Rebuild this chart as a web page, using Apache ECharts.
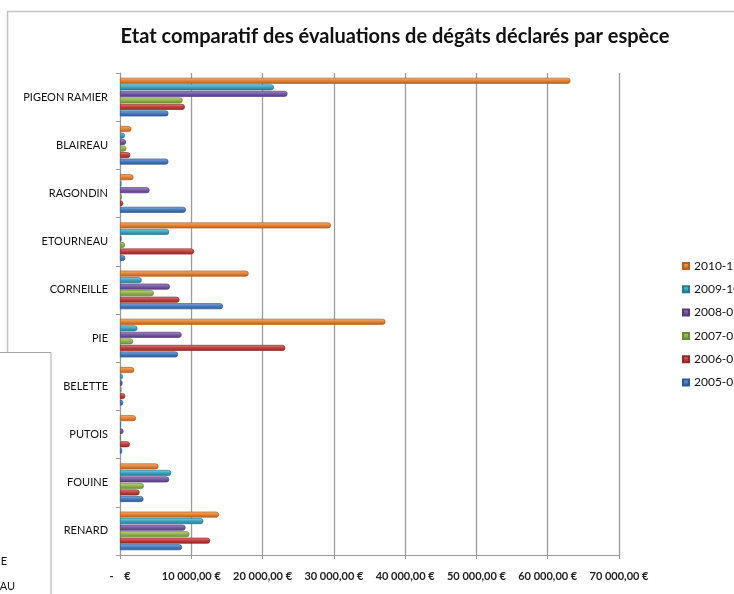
<!DOCTYPE html>
<html>
<head>
<meta charset="utf-8">
<script src="https://cdn.jsdelivr.net/npm/echarts@6/dist/echarts.min.js"></script>
<style>
  html, body { margin: 0; padding: 0; background: #fff; }
  #chart { width: 734px; height: 594px; }
</style>
</head>
<body>
<div id="chart"></div>
<script>
// Espèces (de bas en haut sur l'axe vertical)
const especes = ['RENARD', 'FOUINE', 'PUTOIS', 'BELETTE', 'PIE', 'CORNEILLE',
                 'ETOURNEAU', 'RAGONDIN', 'BLAIREAU', 'PIGEON RAMIER'];

// Campagnes, dans l'ordre de la légende
const campagnes = ['2010-11', '2009-10', '2008-09', '2007-08', '2006-07', '2005-06'];

// Montants déclarés (€), même ordre que les espèces
const v2010_11 = [13900, 5400, 2250, 2000, 37250, 18050, 29600, 1900, 1600, 63200];
const v2009_10 = [11700, 7200, 150, 400, 2450, 3050, 6900, 200, 700, 21600];
const v2008_09 = [9200, 6900, 500, 350, 8650, 7000, 200, 4150, 850, 23500];
const v2007_08 = [9750, 3350, 100, 200, 1850, 4750, 700, 250, 900, 8800];
const v2006_07 = [12650, 2750, 1400, 750, 23200, 8350, 10400, 450, 1450, 9100];
const v2005_06 = [8700, 3300, 300, 450, 8150, 14450, 750, 9250, 6800, 6800];

const valeurs = [v2010_11, v2009_10, v2008_09, v2007_08, v2006_07, v2005_06];

// Graduations de l'axe des montants
const axeMin = 0;
const axeMax = 70000;
const axePas = 10000;

// Teintes des séries : [clair, base, sombre]
const teintes = [
  ['#f7b27a', '#e8853a', '#b4601e'],
  ['#8fd3e6', '#3fa6c2', '#237a91'],
  ['#a994cc', '#7a5ca3', '#553b7c'],
  ['#c4da8e', '#93b653', '#6a8a34'],
  ['#e08a87', '#c0443f', '#8c2a27'],
  ['#8eb2e0', '#4a7dc0', '#2c5a93']
];

function formatEuro(v) {
  if (v === 0) return '-    €';
  const entier = Math.round(v).toString().replace(/\B(?=(\d{3})+(?!\d))/g, ' ');
  return entier + ',00 €';
}

const series = campagnes.map((nom, i) => ({
  name: nom,
  type: 'bar',
  data: valeurs[i],
  barGap: '10%',
  barCategoryGap: '20%',
  itemStyle: {
    color: new echarts.graphic.LinearGradient(0, 0, 0, 1, [
      { offset: 0, color: teintes[i][0] },
      { offset: 0.45, color: teintes[i][1] },
      { offset: 1, color: teintes[i][2] }
    ]),
    borderColor: teintes[i][2],
    borderWidth: 0.7,
    borderRadius: [0, 3, 3, 0]
  },
  emphasis: { disabled: true }
}));

const chart = echarts.init(document.getElementById('chart'), null, { renderer: 'canvas' });

chart.setOption({
  animation: false,
  backgroundColor: '#ffffff',
  color: teintes.map(t => t[1]),
  title: {
    text: 'Etat comparatif des évaluations de dégâts déclarés par espèce',
    left: 390,
    textAlign: 'center',
    top: 22,
    textStyle: {
      fontFamily: 'Lato',
      fontWeight: 'bold',
      fontSize: 20,
      color: '#111'
    }
  },
  legend: {
    orient: 'vertical',
    left: 677,
    top: 254,
    padding: 5,
    itemWidth: 6,
    itemHeight: 6,
    itemGap: 9.3,
    icon: 'rect',
    data: campagnes,
    textStyle: { fontFamily: 'Lato', fontSize: 12, lineHeight: 14, color: '#111' }
  },
  grid: {
    left: 120,
    right: 115,
    top: 73,
    bottom: 39,
    containLabel: false
  },
  xAxis: {
    type: 'value',
    min: axeMin,
    max: axeMax,
    interval: axePas,
    axisLine: { show: true, lineStyle: { color: '#9a9a9a', width: 1 } },
    axisTick: { show: true, length: 4, lineStyle: { color: '#9a9a9a' } },
    splitLine: { show: true, lineStyle: { color: '#9c9c9c', width: 1.3 } },
    axisLabel: {
      margin: 16,
      formatter: formatEuro,
      fontFamily: 'Lato',
      fontSize: 11,
      fontWeight: 'bold',
      color: '#222'
    }
  },
  yAxis: {
    type: 'category',
    data: especes,
    axisLine: { show: true, lineStyle: { color: '#9a9a9a', width: 1 } },
    axisTick: { show: true, length: 4, lineStyle: { color: '#9a9a9a' } },
    axisLabel: {
      margin: 12,
      fontFamily: 'Lato',
      fontSize: 11,
      color: '#111'
    }
  },
  graphic: [
    {
      type: 'rect',
      z: -10,
      shape: { x: 7.5, y: 11.5, width: 800, height: 700 },
      style: { fill: 'none', stroke: '#c4c4c4', lineWidth: 1.5 }
    },
    {
      type: 'rect',
      z: 100,
      shape: { x: -10, y: 352.5, width: 61, height: 300 },
      style: { fill: '#ffffff', stroke: '#a8a8a8', lineWidth: 1 }
    },
    {
      type: 'text',
      z: 101,
      style: { text: 'E', x: 7, y: 561, align: 'right', verticalAlign: 'middle',
               font: '11px Lato', fill: '#111' }
    },
    {
      type: 'text',
      z: 101,
      style: { text: 'AU', x: 15, y: 586, align: 'right', verticalAlign: 'middle',
               font: '11px Lato', fill: '#111' }
    }
  ],
  series: series
});
</script>
</body>
</html>
